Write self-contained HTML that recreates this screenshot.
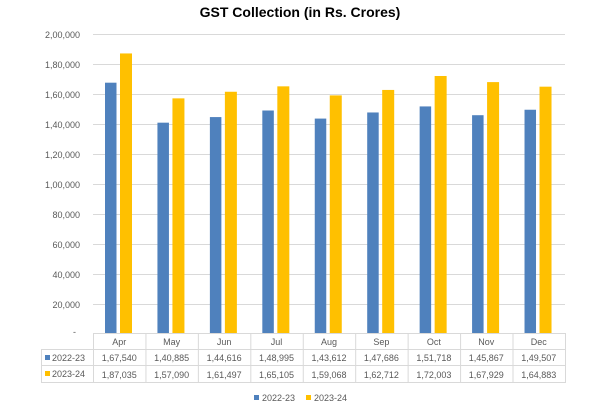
<!DOCTYPE html>
<html><head><meta charset="utf-8"><style>
body{margin:0;background:#fff;}
svg{display:block;font-family:"Liberation Sans",sans-serif;}
</style></head><body>
<svg width="600" height="413" viewBox="0 0 600 413" xmlns="http://www.w3.org/2000/svg">
<text x="300" y="17" text-anchor="middle" font-size="14" font-weight="bold" fill="#000">GST Collection (in Rs. Crores)</text>
<g stroke="#d9d9d9" stroke-width="1">
<line x1="93" y1="34.5" x2="565" y2="34.5"/><line x1="93" y1="64.5" x2="565" y2="64.5"/>
<line x1="93" y1="94.5" x2="565" y2="94.5"/><line x1="93" y1="124.5" x2="565" y2="124.5"/>
<line x1="93" y1="154.5" x2="565" y2="154.5"/><line x1="93" y1="184.5" x2="565" y2="184.5"/>
<line x1="93" y1="214.5" x2="565" y2="214.5"/><line x1="93" y1="244.5" x2="565" y2="244.5"/>
<line x1="93" y1="274.5" x2="565" y2="274.5"/><line x1="93" y1="304.5" x2="565" y2="304.5"/>
</g>
<g font-size="9" fill="#595959" text-anchor="end">
<text x="80" y="38">2,00,000</text><text x="80" y="68">1,80,000</text><text x="80" y="98">1,60,000</text>
<text x="80" y="128">1,40,000</text><text x="80" y="158">1,20,000</text><text x="80" y="188">1,00,000</text>
<text x="80" y="218">80,000</text><text x="80" y="248">60,000</text><text x="80" y="278">40,000</text>
<text x="80" y="308">20,000</text><text x="76" y="335">-</text>
</g>
<g id="bars"></g>
<g stroke="#d9d9d9" stroke-width="1" fill="none">
<line x1="93" y1="333.5" x2="565" y2="333.5"/>
<line x1="41" y1="349.5" x2="565" y2="349.5"/>
<line x1="41" y1="365.5" x2="565" y2="365.5"/>
<line x1="41" y1="382.5" x2="565" y2="382.5"/>
<line x1="41.5" y1="349" x2="41.5" y2="383"/>
</g>
<g id="tbl"></g>
<rect x="254" y="395" width="5" height="5" fill="#4f81bd"/>
<text x="262" y="401" font-size="9" fill="#595959">2022-23</text>
<rect x="306" y="395" width="5" height="5" fill="#ffc000"/>
<text x="314" y="401" font-size="9" fill="#595959">2023-24</text>
<rect x="45" y="355" width="5" height="5" fill="#4f81bd"/>
<text x="52" y="361" font-size="9" fill="#595959">2022-23</text>
<rect x="45" y="371" width="5" height="5" fill="#ffc000"/>
<text x="52" y="377" font-size="9" fill="#595959">2023-24</text>
<script>
var m=["Apr","May","Jun","Jul","Aug","Sep","Oct","Nov","Dec"];
var a=[167540,140885,144616,148995,143612,147686,151718,145867,149507];
var b=[187035,157090,161497,165105,159068,162712,172003,167929,164883];
function f(n){var s=String(n);return s.slice(0,s.length-5)+","+s.slice(-5,-3)+","+s.slice(-3);}
var ns="http://www.w3.org/2000/svg",w=52.44,z=334,k=30/20000,g=document.getElementById("bars"),t=document.getElementById("tbl");
function el(p,n,at,tx){var e=document.createElementNS(ns,n);for(var q in at)e.setAttribute(q,at[q]);if(tx)e.textContent=tx;p.appendChild(e);}
for(var i=0;i<9;i++){var x=93+i*w;
el(g,"rect",{x:x+12,y:z-a[i]*k,width:11.5,height:a[i]*k,fill:"#4f81bd"});
el(g,"rect",{x:x+27,y:z-b[i]*k,width:12,height:b[i]*k,fill:"#ffc000"});
el(t,"line",{x1:x+0.5,y1:333,x2:x+0.5,y2:383,stroke:"#d9d9d9"});
var c=x+w/2;
el(t,"text",{x:c,y:345,"font-size":9,fill:"#595959","text-anchor":"middle"},m[i]);
el(t,"text",{x:c,y:361,"font-size":9,fill:"#595959","text-anchor":"middle"},f(a[i]));
el(t,"text",{x:c,y:378,"font-size":9,fill:"#595959","text-anchor":"middle"},f(b[i]));}
el(t,"line",{x1:565.5,y1:333,x2:565.5,y2:383,stroke:"#d9d9d9"});
</script>
</svg>
</body></html>
